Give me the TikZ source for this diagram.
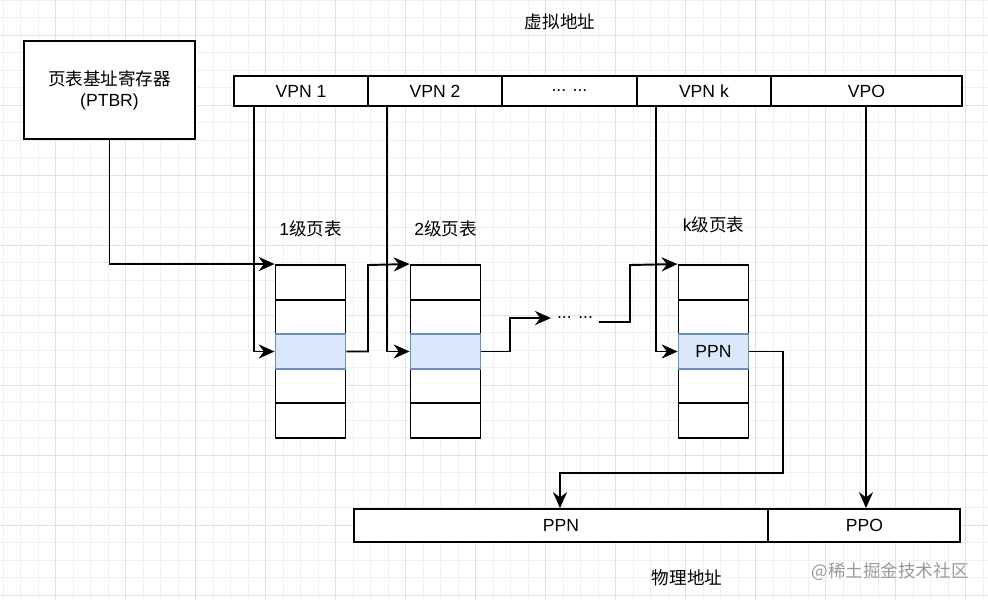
\documentclass[tikz,border=0pt]{standalone}
\usepackage{fontspec}
\setmainfont{Liberation Sans}
\newfontfamily\cjk{Noto Sans CJK SC}
\usetikzlibrary{positioning, arrows.meta}
\definecolor{RowBlue}{HTML}{DAE8FC}
\definecolor{RowEdge}{HTML}{6C8EBF}
\tikzset{
	cell/.style={draw, line width=1.1pt, fill=white, inner sep=0pt, font=\fontsize{10}{12}\selectfont},
	row/.style={cell, minimum width=1.4cm, minimum height=0.692cm},
	hot/.style={fill=RowBlue, draw=RowEdge},
	link/.style={line width=1.1pt, -{Stealth[length=9pt,width=8pt]}},
	label/.style={font=\fontsize{10}{12}\selectfont},
}
\begin{document}
\begin{tikzpicture}[x=0.02cm, y=-0.02cm]
\useasboundingbox (0,0) rectangle (988,600);
% background grid
\foreach \g in {0,17.5,...,988} \draw[black!6, line width=0.3pt] (\g+3,0) -- (\g+3,600);
\foreach \g in {0,17.5,...,600} \draw[black!6, line width=0.3pt] (0,\g) -- (988,\g);
\foreach \g in {55,125,...,988} \draw[black!12, line width=0.5pt] (\g,0) -- (\g,600);
\foreach \g in {35,105,...,600} \draw[black!12, line width=0.5pt] (0,\g) -- (988,\g);

\node[cell, minimum width=3.42cm, minimum height=1.96cm, align=center] (ptbr) at (109.5,90) {{\cjk 页表基址寄存器}\\({PTBR})};
\node[label] (va) at (560,22) {\cjk 虚拟地址};

% virtual address
\node[cell, minimum width=2.68cm, minimum height=0.6cm] (vpn1) at (301,91) {VPN 1};
\node[cell, minimum width=2.68cm, minimum height=0.6cm, right=-1.1pt of vpn1] (vpn2) {VPN 2};
\node[cell, minimum width=2.7cm, minimum height=0.6cm, right=-1.1pt of vpn2] (vdots) {... ...};
\node[cell, minimum width=2.68cm, minimum height=0.6cm, right=-1.1pt of vdots] (vpnk) {VPN k};
\node[cell, minimum width=3.82cm, minimum height=0.6cm, right=-1.1pt of vpnk] (vpo) {VPO};

% page tables
\foreach \t/\x in {1/310.5, 2/445.5, k/713.5} {
	\node[row] (t\t r1) at (\x,282.3) {};
	\foreach \r [remember=\r as \p (initially 1)] in {2,...,5}
		\node[row, below=-1.1pt of t\t r\p] (t\t r\r) {};
}
\node[row, hot] at (t1r3) {};
\node[row, hot] at (t2r3) {};
\node[row, hot] at (tkr3) {PPN};
\node[label, above=12pt of t1r1] {1{\cjk 级页表}};
\node[label, above=12pt of t2r1] {2{\cjk 级页表}};
\node[label, above=14pt of tkr1] {k{\cjk 级页表}};
\node[label] (mdots) at (575,318) {... ...};

% physical address
\node[cell, minimum width=8.3cm, minimum height=0.66cm] (ppn) at (561,525.5) {PPN};
\node[cell, minimum width=3.84cm, minimum height=0.66cm, right=-1.1pt of ppn] (ppo) {PPO};
\node[label] (pa) at (687,578) {\cjk 物理地址};
\node[label, text=black!40] (mark) at (890,572) {{\cjk @稀土掘金技术社区}};

% connectors
\draw[link] (ptbr.south) |- (t1r1.north west);
\draw[link] (vpn1.south west) ++(21,0) |- (t1r3.west);
\draw[link] (t1r3.east) -| (368,265) -- (t2r1.north west);
\draw[link] (vpn2.south west) ++(20,0) |- (t2r3.west);
\draw[link] (t2r3.east) -| (510,318) -- (mdots.west);
\draw[link] (mdots.east) ++(0,4) -| (630,265) -- (tkr1.north west);
\draw[link] (vpnk.south west) ++(20,0) |- (tkr3.west);
\draw[link] (tkr3.east) -| (783,473) -| (ppn.north -| 560,0);
\draw[link] (vpo.south -| 866,0) -- (ppo.north -| 866,0);
\end{tikzpicture}
\end{document}
